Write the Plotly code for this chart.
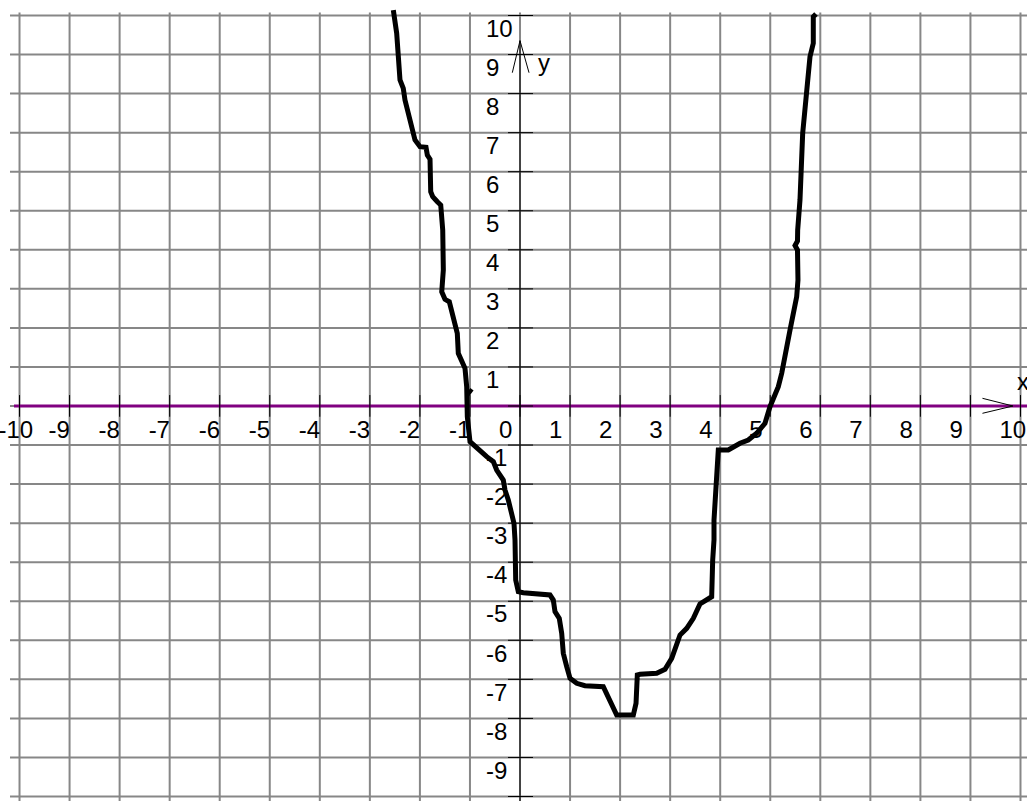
import plotly.graph_objects as go

# Hand-drawn curve, traced point by point (x, y in axis units)
curve_x = [-2.531, -2.464, -2.398, -2.332, -2.298, -2.212, -2.164, -2.098, -1.998, -1.878,
           -1.852, -1.798, -1.784, -1.744, -1.652, -1.584, -1.544, -1.532, -1.564, -1.499,
           -1.413, -1.333, -1.253, -1.233, -1.099, -1.065, -1.053, -0.999, -0.899, -0.665,
           -0.533, -0.466, -0.334, -0.300, -0.234, -0.166, -0.120, -0.100, -0.086, -0.034,
           0.066, 0.599, 0.665, 0.699, 0.785, 0.833, 0.865, 0.933, 0.999, 1.133,
           1.299, 1.664, 1.732, 1.832, 1.932, 2.264, 2.318, 2.344, 2.398, 2.731,
           2.897, 3.031, 3.197, 3.331, 3.463, 3.596, 3.830, 3.850, 3.876, 3.876,
           3.930, 3.962, 4.162, 4.396, 4.561, 4.729, 4.895, 4.995, 5.161, 5.229,
           5.395, 5.528, 5.554, 5.560, 5.544, 5.495, 5.544, 5.548, 5.594, 5.648,
           5.728, 5.794, 5.860, 5.860, 5.914]
curve_y = [10.14, 9.544, 8.348, 8.136, 7.836, 7.367, 7.153, 6.812, 6.640, 6.625,
           6.428, 6.318, 5.488, 5.360, 5.232, 5.147, 4.507, 3.483, 2.927, 2.732,
           2.671, 2.287, 1.862, 1.350, 0.965, 0.494, -0.274, -0.914, -1.042, -1.298,
           -1.426, -1.639, -1.895, -2.151, -2.407, -2.748, -3.004, -3.431, -4.456, -4.755,
           -4.781, -4.840, -4.968, -5.268, -5.437, -5.821, -6.333, -6.676, -6.973, -7.101,
           -7.163, -7.188, -7.357, -7.657, -7.913, -7.913, -7.613, -6.889, -6.871, -6.845,
           -6.743, -6.461, -5.864, -5.693, -5.437, -5.070, -4.884, -3.944, -3.431, -2.919,
           -1.639, -1.127, -1.127, -0.955, -0.871, -0.699, -0.443, -0.018, 0.494, 0.837,
           1.946, 2.799, 3.227, 3.688, 3.995, 4.110, 4.225, 4.507, 5.275, 6.983,
           8.264, 8.945, 9.288, 9.969, 10.04]

# Small pen stroke branching off the left arm near the x-axis
spur_x = [-1.06, -0.96]
spur_y = [0.26, 0.43]

x_ticks = list(range(-10, 11))
y_ticks = [v for v in range(10, -11, -1) if v != 0]
x_tick_labels = [str(v) for v in x_ticks]
y_tick_labels = [str(v) for v in y_ticks]

X_MIN, X_MAX = -10.39, 10.13
Y_MIN, Y_MAX = -10.115, 10.397

GRID = "#878787"
PURPLE = "#800080"
FONT = "Liberation Sans, Arial, sans-serif"
FONT_SIZE = 24

fig = go.Figure()

# Square grid paper
shapes = []
for v in range(-10, 11):
    shapes.append(dict(type="line", xref="x", yref="y", x0=v, x1=v, y0=10.08, y1=Y_MIN - 0.2,
                       line=dict(color=GRID, width=2), layer="below"))
    shapes.append(dict(type="line", xref="x", yref="y", x0=-10.19, x1=X_MAX + 0.2, y0=v, y1=v,
                       line=dict(color=GRID, width=2), layer="below"))

# x-axis (purple) with crossing tick marks
fig.add_trace(go.Scatter(x=[-10.11, X_MAX + 0.2], y=[0, 0], mode="lines",
                         line=dict(color=PURPLE, width=3), hoverinfo="skip"))
tx, ty = [], []
for v in x_ticks:
    tx += [v, v, None]
    ty += [0.28, -0.275, None]
fig.add_trace(go.Scatter(x=tx, y=ty, mode="lines", line=dict(color="black", width=1),
                         hoverinfo="skip"))

# y-axis with crossing tick marks
fig.add_trace(go.Scatter(x=[0, 0], y=[9.355, Y_MIN - 0.2], mode="lines",
                         line=dict(color="black", width=1), hoverinfo="skip"))
ux, uy = [], []
for v in range(-10, 11):
    ux += [-0.24, 0.26, None]
    uy += [v, v, None]
fig.add_trace(go.Scatter(x=ux, y=uy, mode="lines", line=dict(color="black", width=1),
                         hoverinfo="skip"))

# Arrow heads
fig.add_trace(go.Scatter(x=[9.24, 9.85, 9.24], y=[0.197, 0, -0.187], mode="lines",
                         line=dict(color="black", width=1), hoverinfo="skip"))
fig.add_trace(go.Scatter(x=[-0.154, 0, 0.18], y=[8.535, 9.355, 8.535], mode="lines",
                         line=dict(color="black", width=1), hoverinfo="skip"))

# Tick labels
fig.add_trace(go.Scatter(x=[v - 0.42 for v in x_ticks], y=[-0.666] * len(x_ticks),
                         mode="text", text=x_tick_labels, textposition="middle right",
                         textfont=dict(family=FONT, size=FONT_SIZE, color="black"),
                         hoverinfo="skip"))
fig.add_trace(go.Scatter(x=[-0.68] * len(y_ticks), y=[v - 0.39 for v in y_ticks],
                         mode="text", text=y_tick_labels, textposition="middle right",
                         textfont=dict(family=FONT, size=FONT_SIZE, color="black"),
                         hoverinfo="skip"))
fig.add_trace(go.Scatter(x=[9.93, 0.36], y=[0.57, 8.72], mode="text", text=["x", "y"],
                         textposition="middle right",
                         textfont=dict(family=FONT, size=FONT_SIZE, color="black"),
                         hoverinfo="skip"))

# The curve
fig.add_trace(go.Scatter(x=curve_x, y=curve_y, mode="lines",
                         line=dict(color="black", width=5), hoverinfo="skip"))
fig.add_trace(go.Scatter(x=spur_x, y=spur_y, mode="lines",
                         line=dict(color="black", width=4), hoverinfo="skip"))

fig.update_layout(
    width=1027, height=801,
    margin=dict(l=0, r=0, t=0, b=0),
    paper_bgcolor="white", plot_bgcolor="white",
    showlegend=False,
    shapes=shapes,
    xaxis=dict(range=[X_MIN, X_MAX], visible=False, fixedrange=True),
    yaxis=dict(range=[Y_MIN, Y_MAX], visible=False, fixedrange=True),
)

fig.write_html("out.html", config={"displayModeBar": False})
